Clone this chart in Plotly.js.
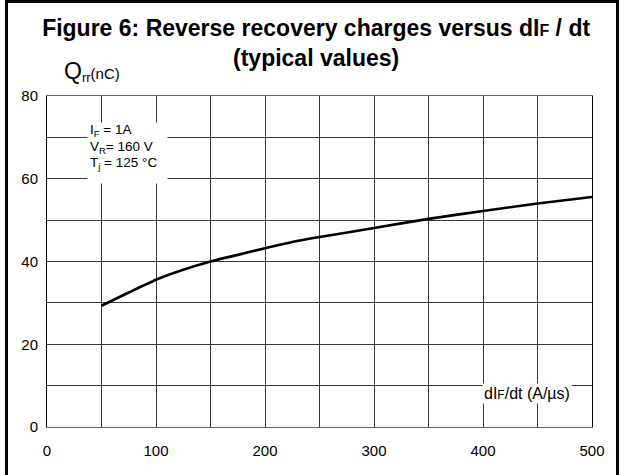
<!DOCTYPE html>
<html>
<head>
<meta charset="utf-8">
<script src="https://cdn.plot.ly/plotly-3.0.1.min.js"></script>
<style>
  html, body { margin: 0; padding: 0; background: #fff; overflow: hidden; }
  #chart { position: absolute; left: 0; top: 0; width: 626px; height: 475px; }
  #frame { position: absolute; left: 5px; top: 0px; width: 614px; height: 520px;
           border: 3px solid #000; pointer-events: none; box-sizing: border-box; }
</style>
</head>
<body>
<div id="chart"></div>
<div id="frame"></div>
<script>
// Data
const dIFdt = [50, 75, 100, 125, 150, 175, 200, 225, 250, 300, 350, 400, 450, 500];
const Qrr   = [29.3, 32.5, 35.6, 38.0, 40.0, 41.6, 43.2, 44.7, 45.9, 48.1, 50.3, 52.2, 54.0, 55.6];
const xTicks = [0, 100, 200, 300, 400, 500];
const yTicks = [0, 20, 40, 60, 80];
const condLines = ['I<sub>F</sub> = 1A', 'V<sub>R</sub>= 160 V', 'T<sub>j</sub> = 125 °C'];

const FONT = 'Liberation Sans, Arial, sans-serif';
const W = 626, H = 475;
const L = 47, R = 34, T = 96, B = 48;
const pw = W - L - R, ph = H - T - B;
const px2x = p => (p - L) / pw;
const px2y = p => (H - B - p) / ph;

const trace = {
  x: dIFdt, y: Qrr, type: 'scatter', mode: 'lines',
  line: { color: '#000', width: 2.6, shape: 'spline', smoothing: 0.6 },
  hoverinfo: 'skip'
};

const gridCol = '#3a3a3a';
const condY = [130.5, 147, 163.5];
const annotations = [
  {
    xref: 'paper', yref: 'paper', x: px2x(62), y: px2y(72),
    xanchor: 'left', yanchor: 'middle', showarrow: false,
    text: '<span style="font-size:23px">Q</span><sub><span style="font-size:13px">rr</span></sub>(nC)',
    font: { family: FONT, size: 15, color: '#000' }
  },
  {
    xref: 'paper', yref: 'paper', x: px2x(482), y: px2y(393),
    xanchor: 'left', yanchor: 'middle', align: 'left', showarrow: false,
    text: 'dI<span style="font-size:12px">F</span>/dt (A/µs)',
    font: { family: FONT, size: 16, color: '#000' },
    bgcolor: '#fff', borderpad: 1
  },
  {
    // white background panel behind the operating conditions
    xref: 'paper', yref: 'paper', x: px2x(87), y: px2y(122),
    xanchor: 'left', yanchor: 'top', showarrow: false,
    text: ' ', width: 79, height: 60, bgcolor: '#fff', borderpad: 0,
    font: { family: FONT, size: 10, color: '#fff' }
  }
];
condLines.forEach((t, i) => annotations.push({
  xref: 'paper', yref: 'paper', x: px2x(88), y: px2y(condY[i]),
  xanchor: 'left', yanchor: 'middle', align: 'left', showarrow: false,
  text: t, font: { family: FONT, size: 13.5, color: '#000' }
}));

const layout = {
  width: W, height: H,
  margin: { l: L, r: R, t: T, b: B, pad: 0 },
  paper_bgcolor: '#fff', plot_bgcolor: '#fff',
  showlegend: false,
  font: { family: FONT, color: '#000', size: 15 },
  title: {
    text: 'Figure 6: Reverse recovery charges versus dI<span style="font-size:16px">F</span> / dt<br>(typical values)',
    font: { family: FONT, size: 23, color: '#000', weight: 'bold' },
    x: 0.505, xref: 'container', xanchor: 'center',
    y: 1 - 36 / H, yref: 'container', yanchor: 'middle'
  },
  xaxis: {
    range: [0, 500], tickmode: 'array', tickvals: xTicks, ticktext: xTicks.map(String),
    showgrid: true, gridcolor: gridCol, gridwidth: 1,
    minor: { dtick: 50, showgrid: true, gridcolor: gridCol, gridwidth: 1 },
    zeroline: false, showline: true, linecolor: '#666', linewidth: 1, mirror: true,
    ticks: '', ticklen: 0, ticklabelstandoff: 10,
    tickfont: { family: FONT, size: 15, color: '#000' },
    fixedrange: true
  },
  yaxis: {
    range: [0, 80], tickmode: 'array', tickvals: yTicks, ticktext: yTicks.map(String),
    showgrid: true, gridcolor: gridCol, gridwidth: 1,
    minor: { dtick: 10, showgrid: true, gridcolor: gridCol, gridwidth: 1 },
    zeroline: false, showline: true, linecolor: '#000', linewidth: 1, mirror: true,
    ticks: '', ticklen: 0, ticklabelstandoff: 5,
    tickfont: { family: FONT, size: 15, color: '#000' },
    fixedrange: true
  },
  annotations: annotations
};

Plotly.newPlot('chart', [trace], layout, { displayModeBar: false, staticPlot: true });
</script>
</body>
</html>
